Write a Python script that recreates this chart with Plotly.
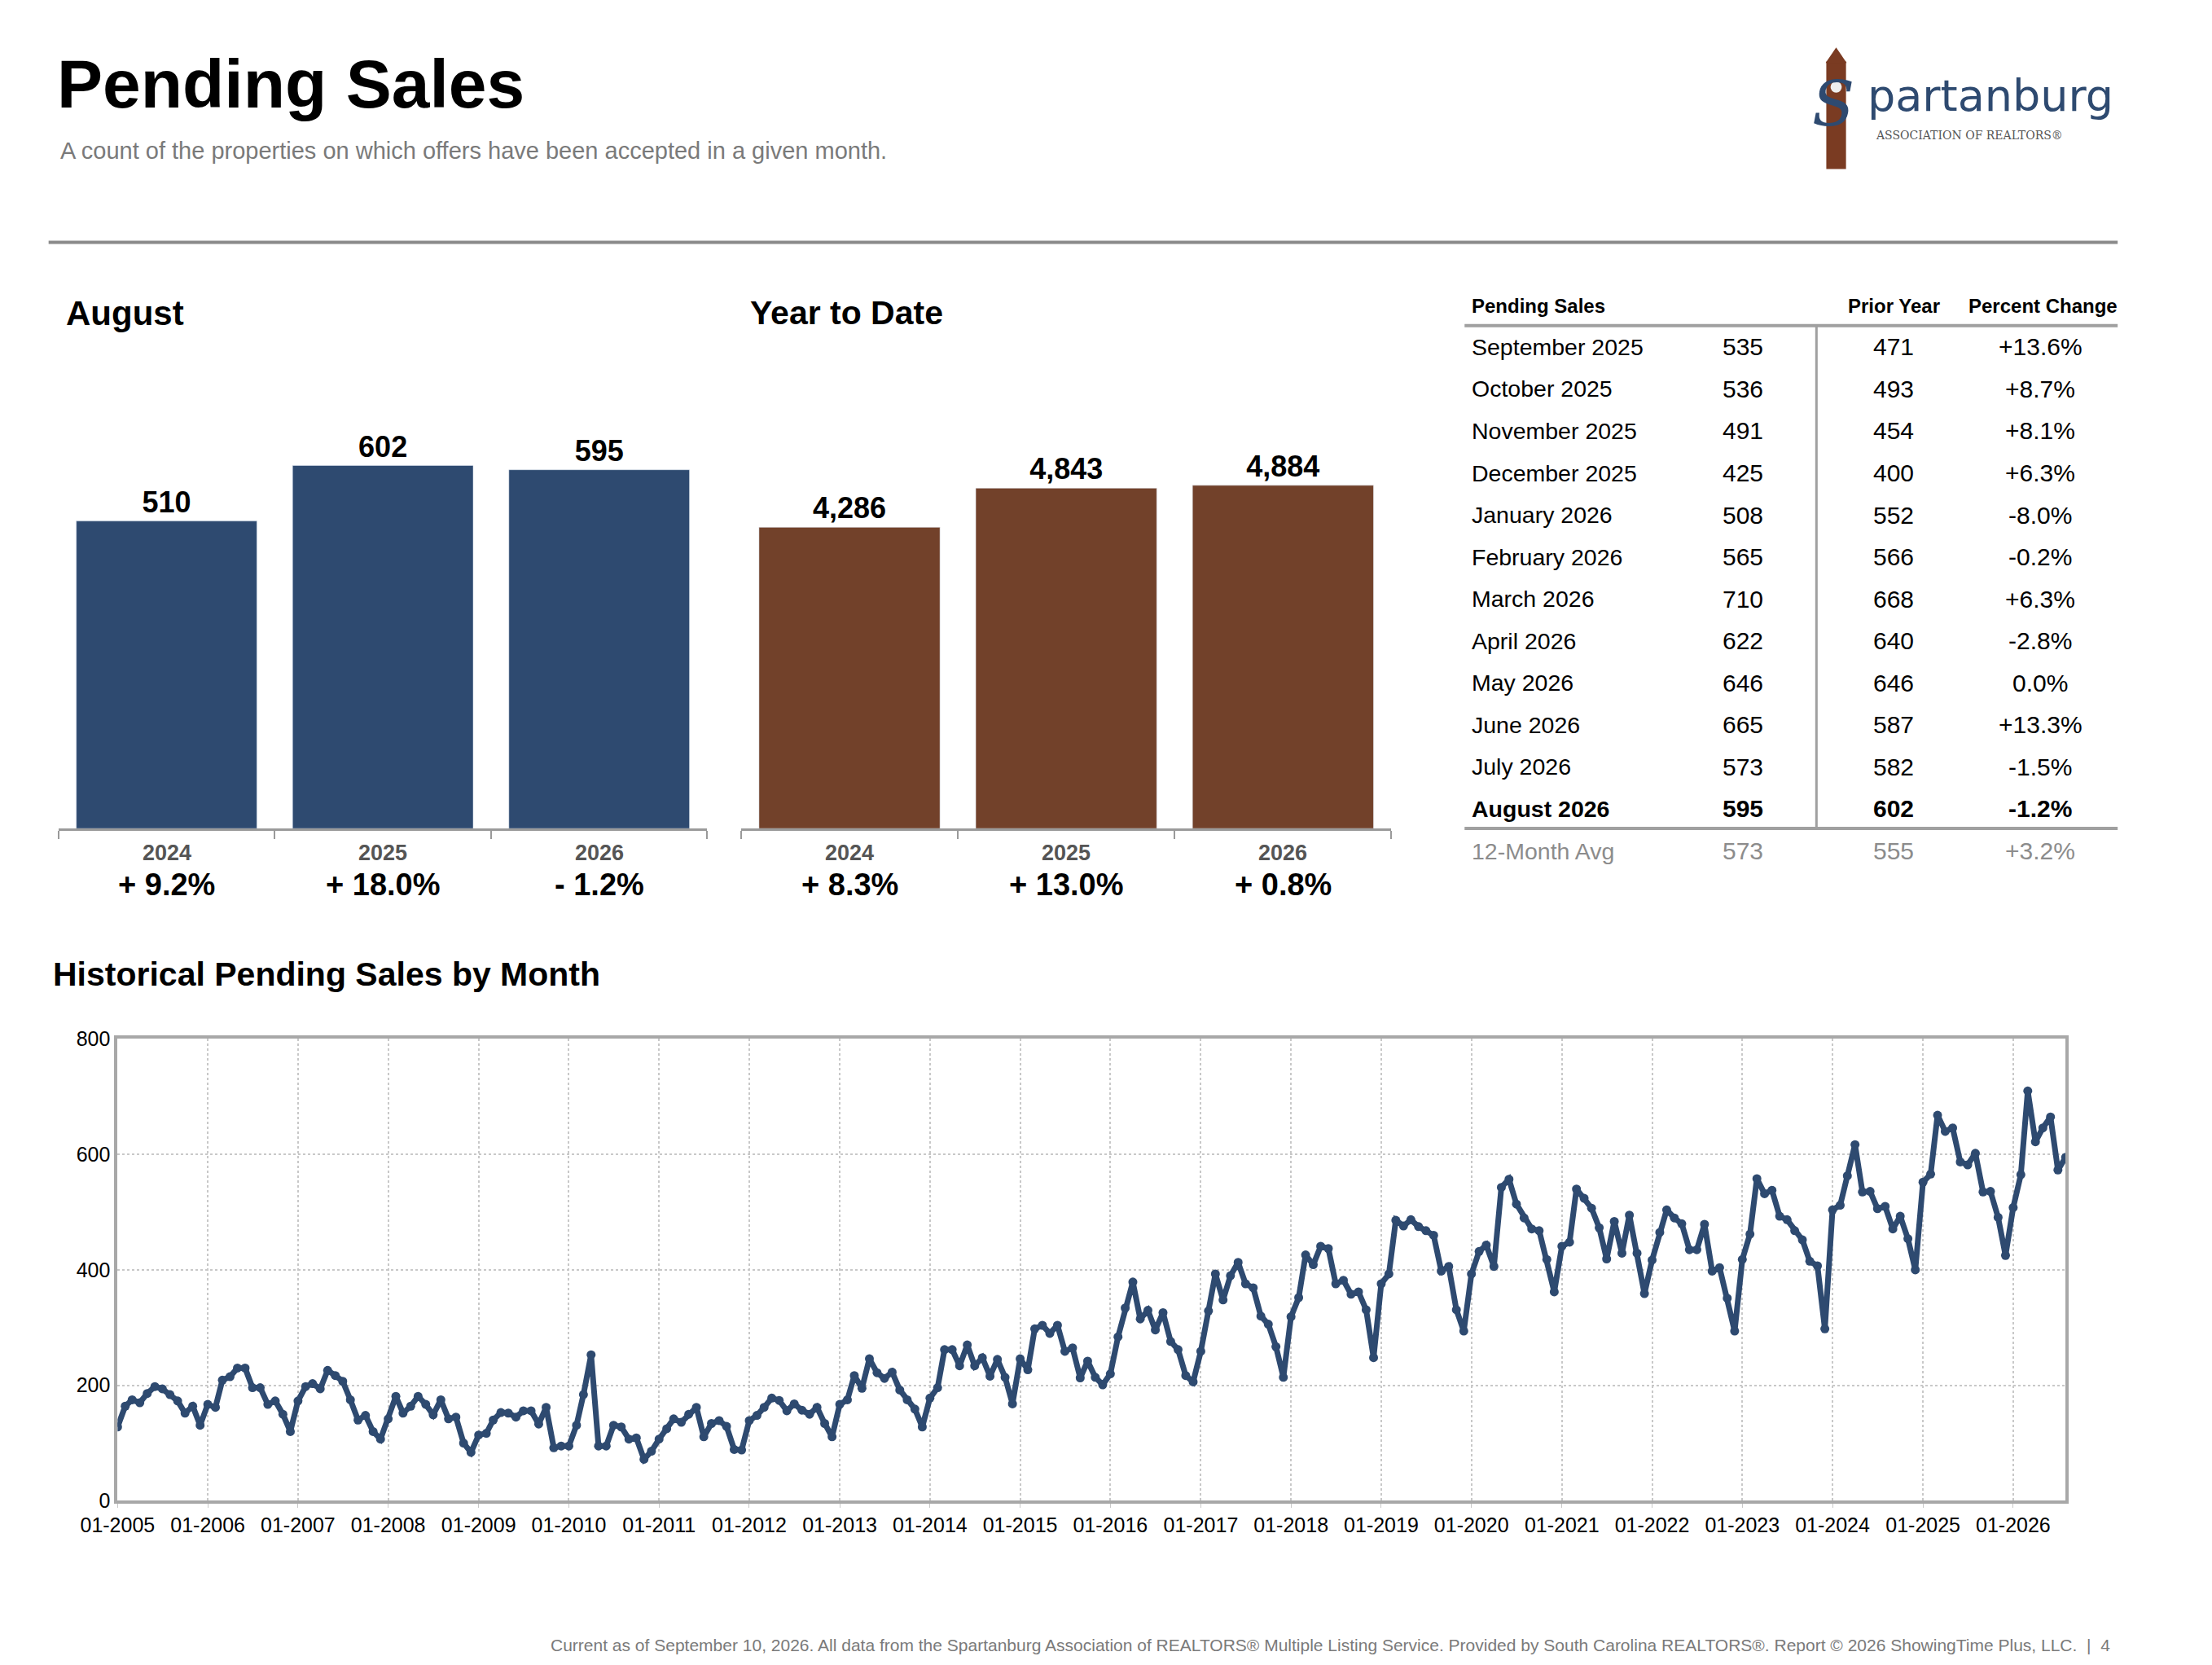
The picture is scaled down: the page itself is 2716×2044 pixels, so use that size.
import plotly.graph_objects as go

W, H = 2716, 2044
S = 1.758
OX, OY = 54, 23
def X(d): return (d * S - OX) / W          # reference-display x -> paper
def Y(d): return 1 - (d * S - OY) / H      # reference-display y -> paper

NAVY = "#2e4a70"
BROWN = "#72412a"
SANS = "Liberation Sans, Arial, Helvetica"

# ---- data ----
bar_years = ["2024", "2025", "2026"]
aug_values = [510, 602, 595]
aug_changes = ["+ 9.2%", "+ 18.0%", "- 1.2%"]
ytd_values = [4286, 4843, 4884]
ytd_changes = ["+ 8.3%", "+ 13.0%", "+ 0.8%"]

table_months = ["September 2025", "October 2025", "November 2025", "December 2025",
                "January 2026", "February 2026", "March 2026", "April 2026",
                "May 2026", "June 2026", "July 2026", "August 2026"]
table_current = [535, 536, 491, 425, 508, 565, 710, 622, 646, 665, 573, 595]
table_prior = [471, 493, 454, 400, 552, 566, 668, 640, 646, 587, 582, 602]
table_pct = ["+13.6%", "+8.7%", "+8.1%", "+6.3%", "-8.0%", "-0.2%", "+6.3%",
             "-2.8%", "0.0%", "+13.3%", "-1.5%", "-1.2%"]
avg_row = ["12-Month Avg", "573", "555", "+3.2%"]

hist_2005 = [128, 164, 175, 170, 186, 198, 194, 184, 173, 152, 164, 131]
hist_2006 = [167, 162, 209, 215, 230, 230, 196, 196, 167, 173, 150, 120]
hist_2007 = [173, 198, 203, 194, 226, 217, 207, 175, 140, 148, 120, 107]
hist_2008 = [142, 181, 152, 164, 181, 167, 149, 175, 142, 145, 100, 84]
hist_2009 = [114, 117, 140, 153, 152, 145, 156, 156, 133, 162, 92, 95]
hist_2010 = [95, 131, 184, 253, 95, 95, 131, 128, 107, 109, 72, 86]
hist_2011 = [107, 125, 142, 136, 150, 162, 111, 134, 139, 129, 89, 88]
hist_2012 = [139, 148, 162, 178, 174, 156, 168, 157, 150, 162, 134, 111]
hist_2013 = [167, 175, 217, 195, 246, 222, 212, 223, 192, 175, 159, 128]
hist_2014 = [178, 196, 262, 262, 234, 270, 234, 248, 216, 245, 214, 168]
hist_2015 = [246, 227, 298, 304, 290, 304, 259, 265, 213, 242, 214, 201]
hist_2016 = [220, 284, 334, 379, 315, 330, 296, 326, 276, 262, 217, 206]
hist_2017 = [259, 329, 393, 348, 390, 413, 376, 369, 320, 306, 267, 214]
hist_2018 = [319, 352, 426, 409, 441, 437, 376, 382, 358, 362, 331, 248]
hist_2019 = [376, 393, 486, 476, 487, 475, 468, 460, 398, 406, 331, 294]
hist_2020 = [393, 432, 443, 406, 543, 557, 514, 490, 471, 468, 418, 362]
hist_2021 = [441, 448, 540, 524, 507, 473, 419, 484, 429, 495, 429, 359]
hist_2022 = [417, 465, 504, 490, 480, 435, 435, 479, 398, 404, 351, 294]
hist_2023 = [418, 462, 558, 532, 538, 493, 487, 468, 452, 415, 407, 298]
hist_2024 = [504, 512, 563, 617, 535, 536, 506, 510, 471, 493, 454, 400]
hist_2025 = [552, 566, 668, 640, 646, 587, 582, 602, 535, 536, 491, 425]
hist_2026 = [508, 565, 710, 622, 646, 665, 573, 595]

hist_values = (hist_2005 + hist_2006 + hist_2007 + hist_2008 + hist_2009 + hist_2010 +
               hist_2011 + hist_2012 + hist_2013 + hist_2014 + hist_2015 + hist_2016 +
               hist_2017 + hist_2018 + hist_2019 + hist_2020 + hist_2021 + hist_2022 +
               hist_2023 + hist_2024 + hist_2025 + hist_2026)
hist_dates = [f"{2005 + i // 12}-{i % 12 + 1:02d}-01" for i in range(len(hist_values))]

fig = go.Figure()

fig.add_trace(go.Bar(x=bar_years, y=aug_values, marker_color=NAVY, xaxis="x", yaxis="y",
                     text=[f"<b>{v:,}</b>" for v in aug_values], textposition="outside",
                     textfont=dict(family=SANS, size=36, color="black"),
                     cliponaxis=False, showlegend=False))
fig.add_trace(go.Bar(x=bar_years, y=ytd_values, marker_color=BROWN, xaxis="x2", yaxis="y2",
                     text=[f"<b>{v:,}</b>" for v in ytd_values], textposition="outside",
                     textfont=dict(family=SANS, size=36, color="black"),
                     cliponaxis=False, showlegend=False))

fig.add_trace(go.Scatter(x=hist_dates, y=hist_values, mode="lines+markers",
                         line=dict(color=NAVY, width=7), marker=dict(color=NAVY, size=11),
                         xaxis="x3", yaxis="y3", showlegend=False))

base, top = 587, 280
bar_axis = dict(type="category", showline=True, linecolor="#9a9a9a", linewidth=3,
                ticks="outside", tickson="boundaries", ticklen=10, tickcolor="#9a9a9a",
                tickwidth=2, showticklabels=False, showgrid=False, fixedrange=True)
aug_range = (base - top) / ((base - 330) / 602)
ytd_range = (base - top) / ((base - 344) / 4884)

fig.update_layout(
    width=W, height=H, paper_bgcolor="white", plot_bgcolor="white",
    margin=dict(l=0, r=0, t=0, b=0), bargap=0.165,
    xaxis=dict(domain=[X(41), X(502)], anchor="y", **bar_axis),
    yaxis=dict(domain=[Y(base), Y(top)], range=[0, aug_range], visible=False, anchor="x"),
    xaxis2=dict(domain=[X(526), X(988)], anchor="y2", **bar_axis),
    yaxis2=dict(domain=[Y(base), Y(top)], range=[0, ytd_range], visible=False, anchor="x2"),
    xaxis3=dict(domain=[X(83), X(1467)], anchor="y3", type="date",
                range=["2005-01-01", "2026-08-01"], dtick="M12", tick0="2005-01-01",
                tickformat="%m-%Y", showgrid=True, gridcolor="#c8c8c8", griddash="dot",
                gridwidth=1.5, showline=True, linecolor="#a8a8a8", linewidth=4, mirror=True,
                ticks="outside", ticklen=5, tickcolor="#c8c8c8",
                tickfont=dict(family=SANS, size=25, color="black")),
    yaxis3=dict(domain=[Y(1063), Y(736)], anchor="x3", range=[0, 800], dtick=200,
                showgrid=True, gridcolor="#c8c8c8", griddash="dot", gridwidth=1.5,
                showline=True, linecolor="#a8a8a8", linewidth=4, mirror=True,
                zeroline=False, ticks="", tickfont=dict(family=SANS, size=25, color="black")),
)

ann = []
def text(x, y, s, size, color="black", bold=False, xanchor="left", family=SANS):
    ann.append(dict(x=X(x), y=Y(y), xref="paper", yref="paper", text=(f"<b>{s}</b>" if bold else s),
                    showarrow=False, xanchor=xanchor, yanchor="middle",
                    font=dict(family=family, size=size, color=color)))

text(39, 60, "Pending Sales", 84, bold=True)
text(41, 107, "A count of the properties on which offers have been accepted in a given month.", 29, color="#7a7a7a")
text(45, 222, "August", 42, bold=True)
text(531, 222, "Year to Date", 41, bold=True)
text(36, 690, "Historical Pending Sales by Month", 41, bold=True)

slot_a = (502 - 41) / 3
slot_b = (988 - 526) / 3
for i in range(3):
    ca = 41 + slot_a * (i + 0.5)
    cb = 526 + slot_b * (i + 0.5)
    text(ca, 604, bar_years[i], 27, color="#555555", bold=True, xanchor="center")
    text(ca, 627, aug_changes[i], 38, bold=True, xanchor="center")
    text(cb, 604, bar_years[i], 27, color="#555555", bold=True, xanchor="center")
    text(cb, 627, ytd_changes[i], 38, bold=True, xanchor="center")

text(1044, 217, "Pending Sales", 24, bold=True)
text(1345, 217, "Prior Year", 24, bold=True, xanchor="center")
text(1451, 217, "Percent Change", 24, bold=True, xanchor="center")
for i, m in enumerate(table_months):
    y = 246 + i * 29.73
    b = i == len(table_months) - 1
    text(1044, y, m, 28.5, bold=b)
    text(1238, y, str(table_current[i]), 30, bold=b, xanchor="center")
    text(1345, y, str(table_prior[i]), 30, bold=b, xanchor="center")
    text(1449, y, table_pct[i], 30, bold=b, xanchor="center")
text(1044, 603, avg_row[0], 28.5, color="#8c8c8c")
text(1238, 603, avg_row[1], 30, color="#8c8c8c", xanchor="center")
text(1345, 603, avg_row[2], 30, color="#8c8c8c", xanchor="center")
text(1449, 603, avg_row[3], 30, color="#8c8c8c", xanchor="center")

text(1500, 1165, "Current as of September 10, 2026. All data from the Spartanburg Association of REALTORS® Multiple Listing Service. Provided by South Carolina REALTORS®. Report © 2026 ShowingTime Plus, LLC.  |  4",
     21, color="#7a7a7a", xanchor="right")

text(1325, 68, "partanburg", 54, color="#2e4a70", family="DejaVu Sans, Lato")
text(1331, 96, "ASSOCIATION OF REALTORS®", 14, color="#555555", family="DejaVu Serif, Liberation Serif")
text(1302, 74, "<i>S</i>", 76, color="#2e4a70", family="DejaVu Serif, Liberation Serif", xanchor="center")

fig.update_layout(annotations=ann)

def line(x0, y0, x1, y1, color, w):
    fig.add_shape(type="line", xref="paper", yref="paper", x0=X(x0), y0=Y(y0), x1=X(x1), y1=Y(y1),
                  line=dict(color=color, width=w))

line(34, 172, 1504, 172, "#8a8a8a", 4)
line(1040, 231, 1504, 231, "#a0a0a0", 4)
line(1040, 587, 1504, 587, "#a0a0a0", 4)
line(1290, 231, 1290, 587, "#a0a0a0", 3)

fig.add_shape(type="rect", xref="paper", yref="paper", x0=X(1297), x1=X(1311), y0=Y(120), y1=Y(44),
              fillcolor="#7a3b22", line_width=0, layer="below")
fig.add_shape(type="path", xref="paper", yref="paper",
              path=f"M {X(1296.5)} {Y(45)} L {X(1304)} {Y(34)} L {X(1311.5)} {Y(45)} Z",
              fillcolor="#7a3b22", line_width=0, layer="below")
fig.add_shape(type="circle", xref="paper", yref="paper", x0=X(1300), x1=X(1308), y0=Y(66), y1=Y(58),
              fillcolor="#eeeeee", line_width=0, layer="below")

fig.write_html("out.html")
